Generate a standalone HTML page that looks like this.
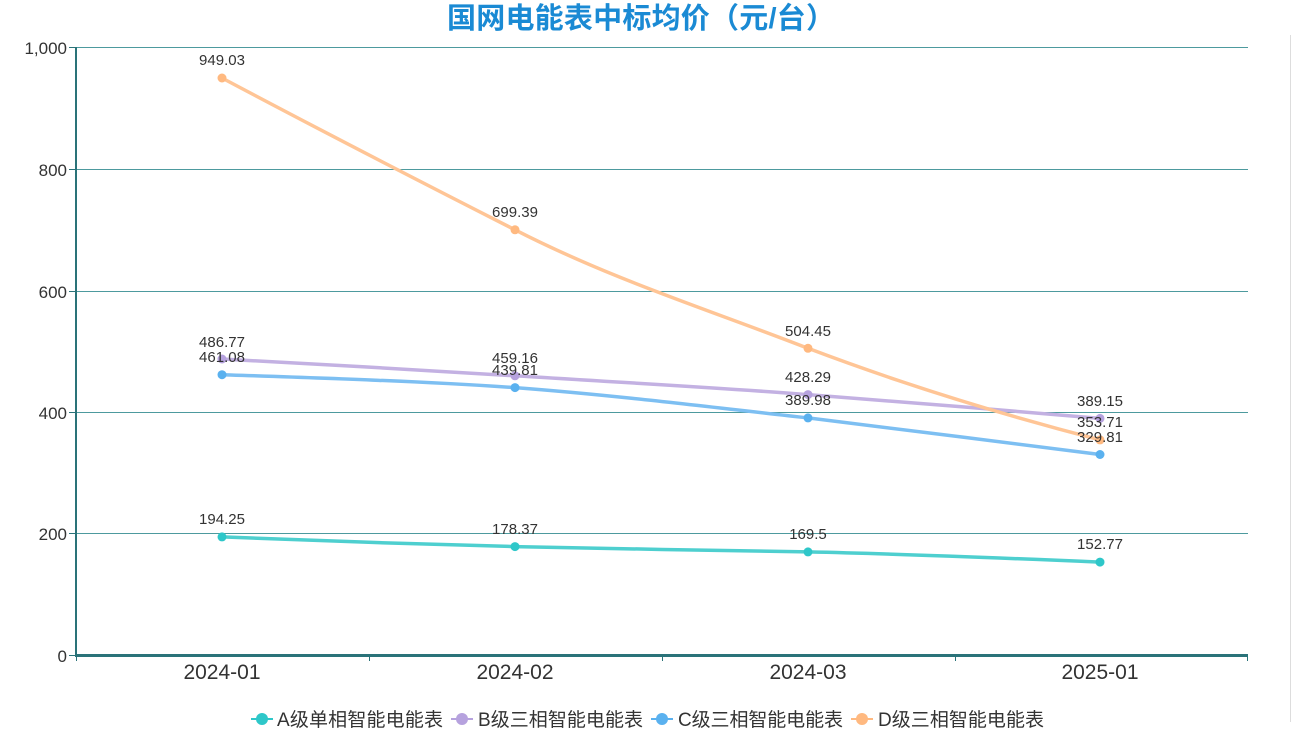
<!DOCTYPE html>
<html><head><meta charset="utf-8"><style>
body{margin:0;background:#fff;width:1299px;height:735px;overflow:hidden}
svg{font-family:"Liberation Sans","Noto Sans CJK SC",sans-serif}
</style></head><body>
<svg width="1299" height="735" xmlns="http://www.w3.org/2000/svg">
<text x="447" y="28" font-size="29" font-weight="bold" fill="#1a8ad4" textLength="388">国网电能表中标均价（元/台）</text>
<g stroke="#4d9a9e" stroke-width="1">
<line x1="76" y1="47.5" x2="1248" y2="47.5"/>
<line x1="76" y1="169.5" x2="1248" y2="169.5"/>
<line x1="76" y1="291.5" x2="1248" y2="291.5"/>
<line x1="76" y1="412.5" x2="1248" y2="412.5"/>
<line x1="76" y1="533.5" x2="1248" y2="533.5"/>
</g>
<line x1="76" y1="47" x2="76" y2="657" stroke="#2a7379" stroke-width="2"/>
<line x1="76" y1="655.5" x2="1248" y2="655.5" stroke="#2a7379" stroke-width="3"/>
<g stroke="#2a7379" stroke-width="1">
<line x1="69" y1="47.5" x2="76" y2="47.5"/><line x1="69" y1="169.5" x2="76" y2="169.5"/><line x1="69" y1="291.5" x2="76" y2="291.5"/><line x1="69" y1="412.5" x2="76" y2="412.5"/><line x1="69" y1="533.5" x2="76" y2="533.5"/><line x1="69" y1="655.5" x2="76" y2="655.5"/>
<line x1="76.5" y1="655" x2="76.5" y2="661"/><line x1="369.5" y1="655" x2="369.5" y2="661"/><line x1="662.5" y1="655" x2="662.5" y2="661"/><line x1="955.5" y1="655" x2="955.5" y2="661"/><line x1="1247.5" y1="655" x2="1247.5" y2="661"/>
</g>
<g font-size="17" fill="#333" text-anchor="end">
<text x="67" y="54">1,000</text><text x="67" y="176">800</text><text x="67" y="298">600</text><text x="67" y="419">400</text><text x="67" y="540">200</text><text x="67" y="662">0</text>
</g>
<g font-size="21" fill="#333" text-anchor="middle">
<text x="222" y="679">2024-01</text><text x="515" y="679">2024-02</text><text x="808" y="679">2024-03</text><text x="1100" y="679">2025-01</text>
</g>
<g fill="none" stroke-width="3.5" stroke-linecap="round" stroke-linejoin="round">
<path d="M222,536.9 C320,541 417,544 515,546.6 C613,549 710,550 808,551.9 C905,554 1003,558 1100,562.1" stroke="#4ecfcf"/>
<path d="M222,359 C320,364 417,370 515,375.8 C613,382 710,387 808,394.6 C905,402 1003,410 1100,418.4" stroke="#c3b1e2"/>
<path d="M222,374.7 C320,378 417,381 515,387.6 C613,395 710,407 808,417.9 C905,430 1003,442 1100,454.5" stroke="#7dbff2"/>
<path d="M222,78 C320,130 417,180 515,229.8 C613,280 710,310 808,348.3 C905,385 1003,415 1100,439.9" stroke="#ffc596"/>
</g>
<g fill="#2ec7c9"><circle cx="222" cy="536.9" r="4.5"/><circle cx="515" cy="546.6" r="4.5"/><circle cx="808" cy="551.9" r="4.5"/><circle cx="1100" cy="562.1" r="4.5"/></g>
<g fill="#b6a2de"><circle cx="222" cy="359" r="4.5"/><circle cx="515" cy="375.8" r="4.5"/><circle cx="808" cy="394.6" r="4.5"/><circle cx="1100" cy="418.4" r="4.5"/></g>
<g fill="#5ab1ef"><circle cx="222" cy="374.7" r="4.5"/><circle cx="515" cy="387.6" r="4.5"/><circle cx="808" cy="417.9" r="4.5"/><circle cx="1100" cy="454.5" r="4.5"/></g>
<g fill="#ffb980"><circle cx="222" cy="78" r="4.5"/><circle cx="515" cy="229.8" r="4.5"/><circle cx="808" cy="348.3" r="4.5"/><circle cx="1100" cy="439.9" r="4.5"/></g>
<g font-size="15" fill="#333" text-anchor="middle">
<text x="222" y="524">194.25</text><text x="515" y="534">178.37</text><text x="808" y="539">169.5</text><text x="1100" y="549">152.77</text>
<text x="222" y="347">486.77</text><text x="515" y="363">459.16</text><text x="808" y="382">428.29</text><text x="1100" y="406">389.15</text>
<text x="222" y="362">461.08</text><text x="515" y="375">439.81</text><text x="808" y="405">389.98</text><text x="1100" y="442">329.81</text>
<text x="222" y="65">949.03</text><text x="515" y="217">699.39</text><text x="808" y="336">504.45</text><text x="1100" y="427">353.71</text>
</g>
<g font-size="19" fill="#333">
<line x1="251" y1="719" x2="273" y2="719" stroke="#2ec7c9" stroke-width="2"/><circle cx="262" cy="719" r="6" fill="#2ec7c9"/><text x="277" y="726" textLength="166">A级单相智能电能表</text>
<line x1="451" y1="719" x2="473" y2="719" stroke="#b6a2de" stroke-width="2"/><circle cx="462" cy="719" r="6" fill="#b6a2de"/><text x="478" y="726" textLength="165">B级三相智能电能表</text>
<line x1="651" y1="719" x2="673" y2="719" stroke="#5ab1ef" stroke-width="2"/><circle cx="662" cy="719" r="6" fill="#5ab1ef"/><text x="678" y="726" textLength="165">C级三相智能电能表</text>
<line x1="851" y1="719" x2="873" y2="719" stroke="#ffb980" stroke-width="2"/><circle cx="862" cy="719" r="6" fill="#ffb980"/><text x="878" y="726" textLength="166">D级三相智能电能表</text>
</g>
<line x1="1290.5" y1="35" x2="1290.5" y2="722" stroke="#ddd" stroke-width="1"/>
</svg>
</body></html>
